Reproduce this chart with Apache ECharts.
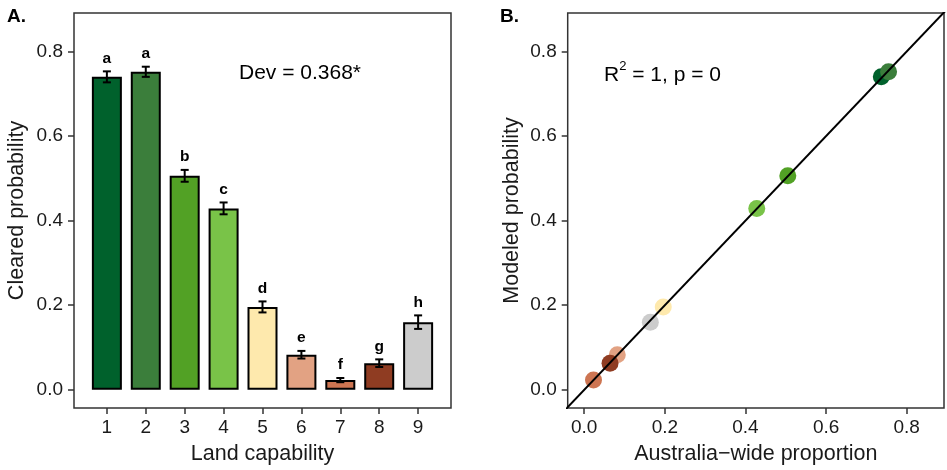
<!DOCTYPE html>
<html><head><meta charset="utf-8">
<script src="https://cdn.jsdelivr.net/npm/echarts@6/dist/echarts.min.js"></script>
<style>html,body{margin:0;padding:0;background:#fff}#c{width:947px;height:470px}</style>
</head><body><div id="c"></div>
<script>
// ---- data ----
const landCapability = [1, 2, 3, 4, 5, 6, 7, 8, 9];
const clearedProb    = [0.740, 0.752, 0.506, 0.429, 0.196, 0.083, 0.023, 0.063, 0.160];
const clearedSE      = [0.013, 0.012, 0.014, 0.014, 0.013, 0.009, 0.005, 0.009, 0.016];
const groupLetters   = ['a', 'a', 'b', 'c', 'd', 'e', 'f', 'g', 'h'];
const australiaProp  = [0.737, 0.755, 0.505, 0.428, 0.196, 0.082, 0.023, 0.064, 0.164];
const modeledProb    = [0.740, 0.752, 0.506, 0.429, 0.196, 0.083, 0.023, 0.063, 0.160];
const classColors    = ['#00612c', '#3b7e3b', '#52a125', '#79c348', '#fee9ad', '#e2a283', '#cd7552', '#8f3c22', '#cccccc'];
const yTicks  = [0, 0.2, 0.4, 0.6, 0.8];
const xTicksB = [0, 0.2, 0.4, 0.6, 0.8];
const fitSlope = 1, fitIntercept = 0;
const devText = 'Dev = 0.368*';

// ---- layout ----
const yMin = -0.043, yMax = 0.891;
const xMinA = 0.155, xMaxA = 9.845;
const xMinB = -0.041, xMaxB = 0.8925;
const FONT = '"Liberation Sans", Arial, Helvetica, sans-serif';
const tickStyle = { show: true, length: 6, lineStyle: { color: '#333', width: 1.5 } };
const labStyle = { color: '#1a1a1a', fontSize: 19, fontFamily: FONT };
const nameStyle = { color: '#1a1a1a', fontSize: 21.5, fontFamily: FONT };
const noLine = { show: false, onZero: false };

const chart = echarts.init(document.getElementById('c'), null, { renderer: 'canvas' });
chart.setOption({
  animation: false,
  backgroundColor: '#fff',
  grid: [
    { left: 74, right: 496, top: 13, bottom: 60, show: true, borderColor: '#333', borderWidth: 1.5, backgroundColor: 'transparent' },
    { left: 567.7, right: 3, top: 13, bottom: 60, show: true, borderColor: '#333', borderWidth: 1.5, backgroundColor: 'transparent' }
  ],
  xAxis: [
    { gridIndex: 0, type: 'value', min: xMinA, max: xMaxA,
      axisLine: noLine, splitLine: { show: false },
      axisTick: Object.assign({ customValues: landCapability }, tickStyle),
      axisLabel: Object.assign({ customValues: landCapability, margin: 10, formatter: v => String(v) }, labStyle),
      name: 'Land capability', nameLocation: 'middle', nameGap: 35, nameTextStyle: nameStyle },
    { gridIndex: 1, type: 'value', min: xMinB, max: xMaxB,
      axisLine: noLine, splitLine: { show: false },
      axisTick: Object.assign({ customValues: xTicksB }, tickStyle),
      axisLabel: Object.assign({ customValues: xTicksB, margin: 10, formatter: v => v.toFixed(1) }, labStyle),
      name: 'Australia\u2212wide proportion', nameLocation: 'middle', nameGap: 35, nameTextStyle: nameStyle }
  ],
  yAxis: [
    { gridIndex: 0, type: 'value', min: yMin, max: yMax,
      axisLine: noLine, splitLine: { show: false },
      axisTick: Object.assign({ customValues: yTicks }, tickStyle),
      axisLabel: Object.assign({ customValues: yTicks, margin: 11, formatter: v => v.toFixed(1) }, labStyle),
      name: 'Cleared probability', nameLocation: 'middle', nameGap: 46, nameTextStyle: nameStyle },
    { gridIndex: 1, type: 'value', min: yMin, max: yMax,
      axisLine: noLine, splitLine: { show: false },
      axisTick: Object.assign({ customValues: yTicks }, tickStyle),
      axisLabel: Object.assign({ customValues: yTicks, margin: 11, formatter: v => v.toFixed(1) }, labStyle),
      name: 'Modeled probability', nameLocation: 'middle', nameGap: 45, nameTextStyle: nameStyle }
  ],
  series: [
    { type: 'bar', xAxisIndex: 0, yAxisIndex: 0, barWidth: 30,
      data: landCapability.map((x, i) => ({ value: [x, clearedProb[i]], itemStyle: { color: classColors[i] } })),
      itemStyle: { borderColor: '#000', borderWidth: 2 } },
    { type: 'custom', xAxisIndex: 0, yAxisIndex: 0, z: 5,
      data: landCapability.map((x, i) => [x, clearedProb[i], clearedSE[i]]),
      renderItem: function (params, api) {
        const x = api.value(0), v = api.value(1), se = api.value(2);
        const t = api.coord([x, v + se]);
        const b = api.coord([x, v - se]);
        const h = 4;
        const ls = { stroke: '#000', lineWidth: 2 };
        return { type: 'group', children: [
          { type: 'line', shape: { x1: t[0], y1: t[1], x2: b[0], y2: b[1] }, style: ls },
          { type: 'line', shape: { x1: t[0] - h, y1: t[1], x2: t[0] + h, y2: t[1] }, style: ls },
          { type: 'line', shape: { x1: b[0] - h, y1: b[1], x2: b[0] + h, y2: b[1] }, style: ls },
          { type: 'text', x: t[0], y: t[1] - 5, style: { text: groupLetters[params.dataIndex], align: 'center', verticalAlign: 'bottom',
              font: 'bold 15.5px ' + FONT, fill: '#000' } }
        ] };
      } },
    { type: 'scatter', xAxisIndex: 1, yAxisIndex: 1, symbolSize: 17, z: 2,
      data: australiaProp.map((x, i) => ({ value: [x, modeledProb[i]], itemStyle: { color: classColors[i], opacity: 1 } })) },
    { type: 'line', xAxisIndex: 1, yAxisIndex: 1, z: 4, symbol: 'none', clip: true, silent: true,
      lineStyle: { color: '#000', width: 2 },
      data: [[xMinB - 0.01, fitIntercept + fitSlope * (xMinB - 0.01)], [xMaxB + 0.01, fitIntercept + fitSlope * (xMaxB + 0.01)]] }
  ],
  graphic: [
    { type: 'text', left: 7, top: 7, style: { text: 'A.', font: 'bold 19px ' + FONT, fill: '#000' } },
    { type: 'text', left: 500, top: 7, style: { text: 'B.', font: 'bold 19px ' + FONT, fill: '#000' } },
    { type: 'text', x: 239, y: 73, style: { text: devText, font: '21px ' + FONT, fill: '#000', verticalAlign: 'middle' } },
    { type: 'text', x: 604, y: 73, style: { text: '{r|R}{s|2}{r| = 1, p = 0}', verticalAlign: 'middle',
        rich: { r: { fontSize: 21, fontFamily: FONT, color: '#000', lineHeight: 26, verticalAlign: 'bottom' },
                s: { fontSize: 13, fontFamily: FONT, color: '#000', lineHeight: 26, verticalAlign: 'top' } } } }
  ]
});
</script></body></html>
